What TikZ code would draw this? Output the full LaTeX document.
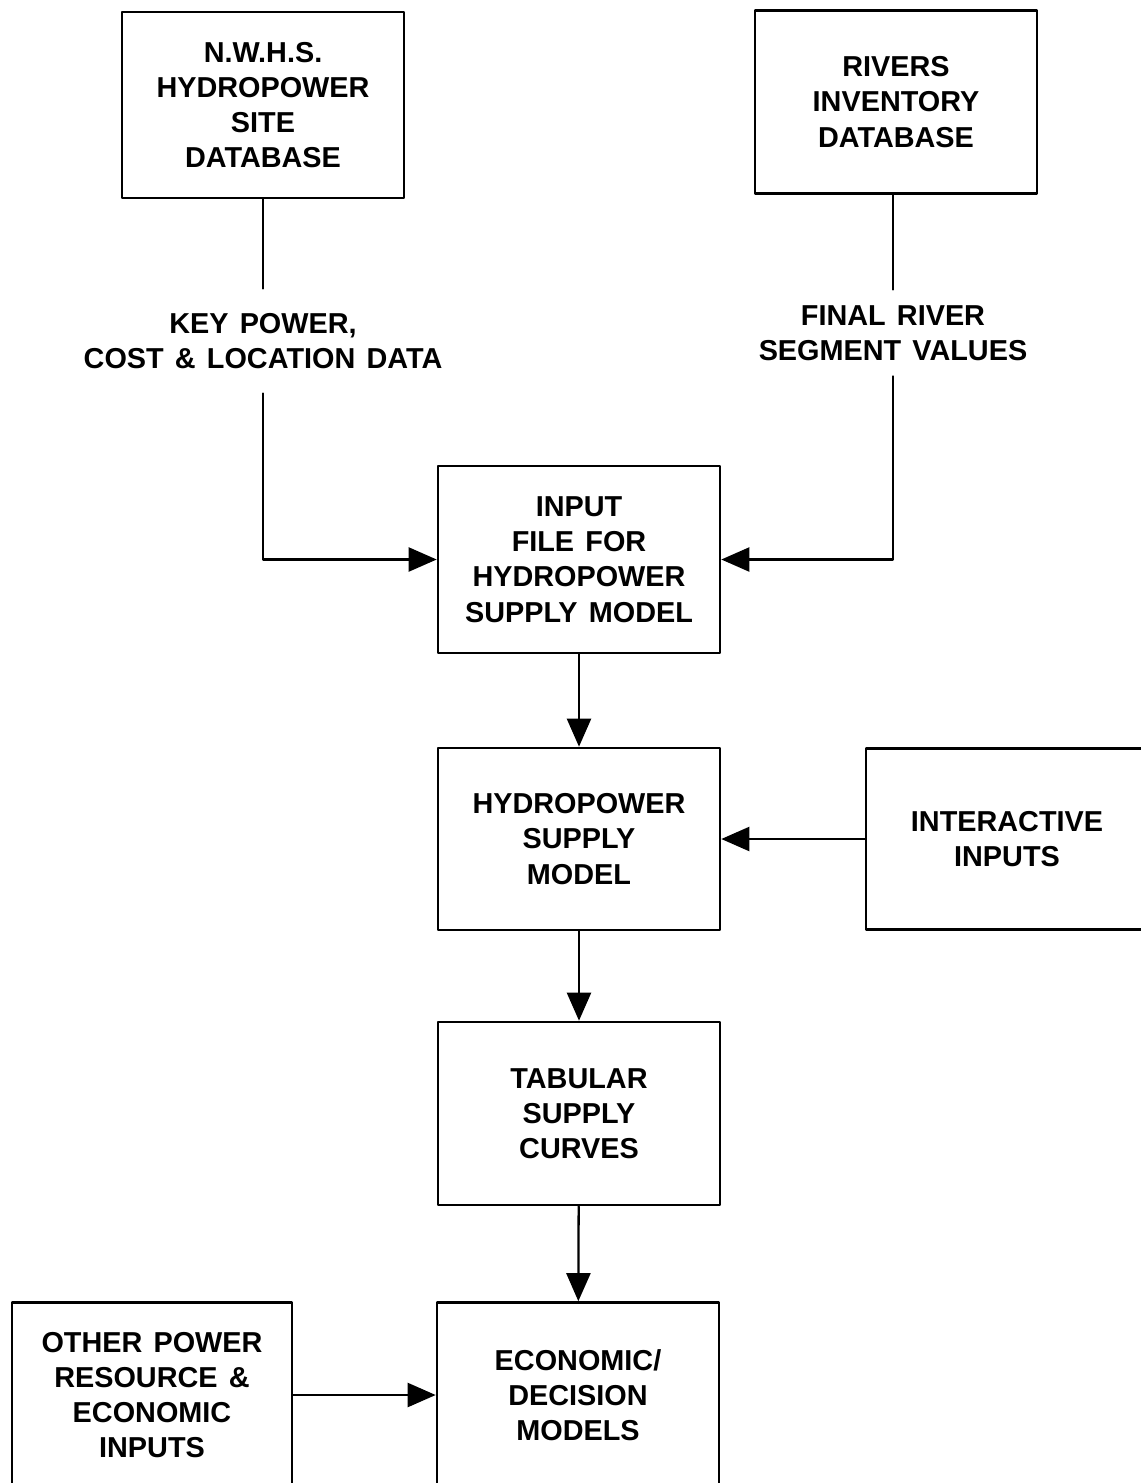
\documentclass[tikz,border=0pt]{standalone}
\usepackage{fontspec}
\setmainfont{Liberation Sans}[WordSpace=1.4]
\usetikzlibrary{arrows.meta}
\begin{document}
\begin{tikzpicture}[line cap=round, line join=round,
    font=\fontsize{8.2}{10}\selectfont\bfseries,
    blk/.style={draw, line width=0.75pt, align=center, minimum width=2.82cm,
      minimum height=1.84cm, inner sep=0pt},
    lbl/.style={align=center, inner xsep=0pt, inner ysep=0.24cm},
    link/.style={line width=0.6pt},
    flow/.style={line width=0.65pt, -{Triangle[length=2.8mm, width=2.4mm]}}]
  \useasboundingbox (0,0) rectangle (11.41,-14.83);
  % data sources
  \node[blk, minimum height=1.86cm] (nwhs) at (2.63,-1.05) {N.W.H.S.\\HYDROPOWER\\SITE\\DATABASE};
  \node[blk, minimum height=1.83cm] (rivers) at (8.96,-1.02) {RIVERS\\INVENTORY\\DATABASE};
  \node[lbl] (keydata) at (2.63,-3.41) {KEY POWER,\\COST \& LOCATION DATA};
  \node[lbl, inner ysep=0.15cm] (rivval) at (8.93,-3.33) {FINAL RIVER\\SEGMENT VALUES};
  % main chain
  \node[blk, minimum height=1.87cm] (input) at (5.79,-5.595) {INPUT\\FILE FOR\\HYDROPOWER\\SUPPLY MODEL};
  \node[blk, minimum height=1.82cm] (hydro) at (5.79,-8.39) {HYDROPOWER\\SUPPLY\\MODEL};
  \node[blk, minimum height=1.81cm] (interact) at (10.07,-8.39) {INTERACTIVE\\INPUTS};
  \node[blk, minimum height=1.83cm] (tabular) at (5.79,-11.135) {TABULAR\\SUPPLY\\CURVES};
  \node[blk, minimum height=1.85cm] (econ) at (5.78,-13.95) {ECONOMIC/\\DECISION\\MODELS};
  \node[blk, minimum height=1.85cm, minimum width=2.80cm] (other) at (1.52,-13.95) {OTHER POWER\\RESOURCE \&\\ECONOMIC\\INPUTS};
  % connectors
  \draw[link] (nwhs) -- (keydata);
  \draw[flow] (keydata) |- (input);
  \draw[link] (rivval.north |- rivers.south) -- (rivval.north);
  \draw[flow] (rivval) |- (input);
  \draw[flow] (input) -- (hydro);
  \draw[flow] (interact) -- (hydro);
  \draw[flow] (hydro) -- (tabular);
  \draw[flow] (tabular) -- (econ);
  \draw[flow] (other) -- (econ);
\end{tikzpicture}
\end{document}
